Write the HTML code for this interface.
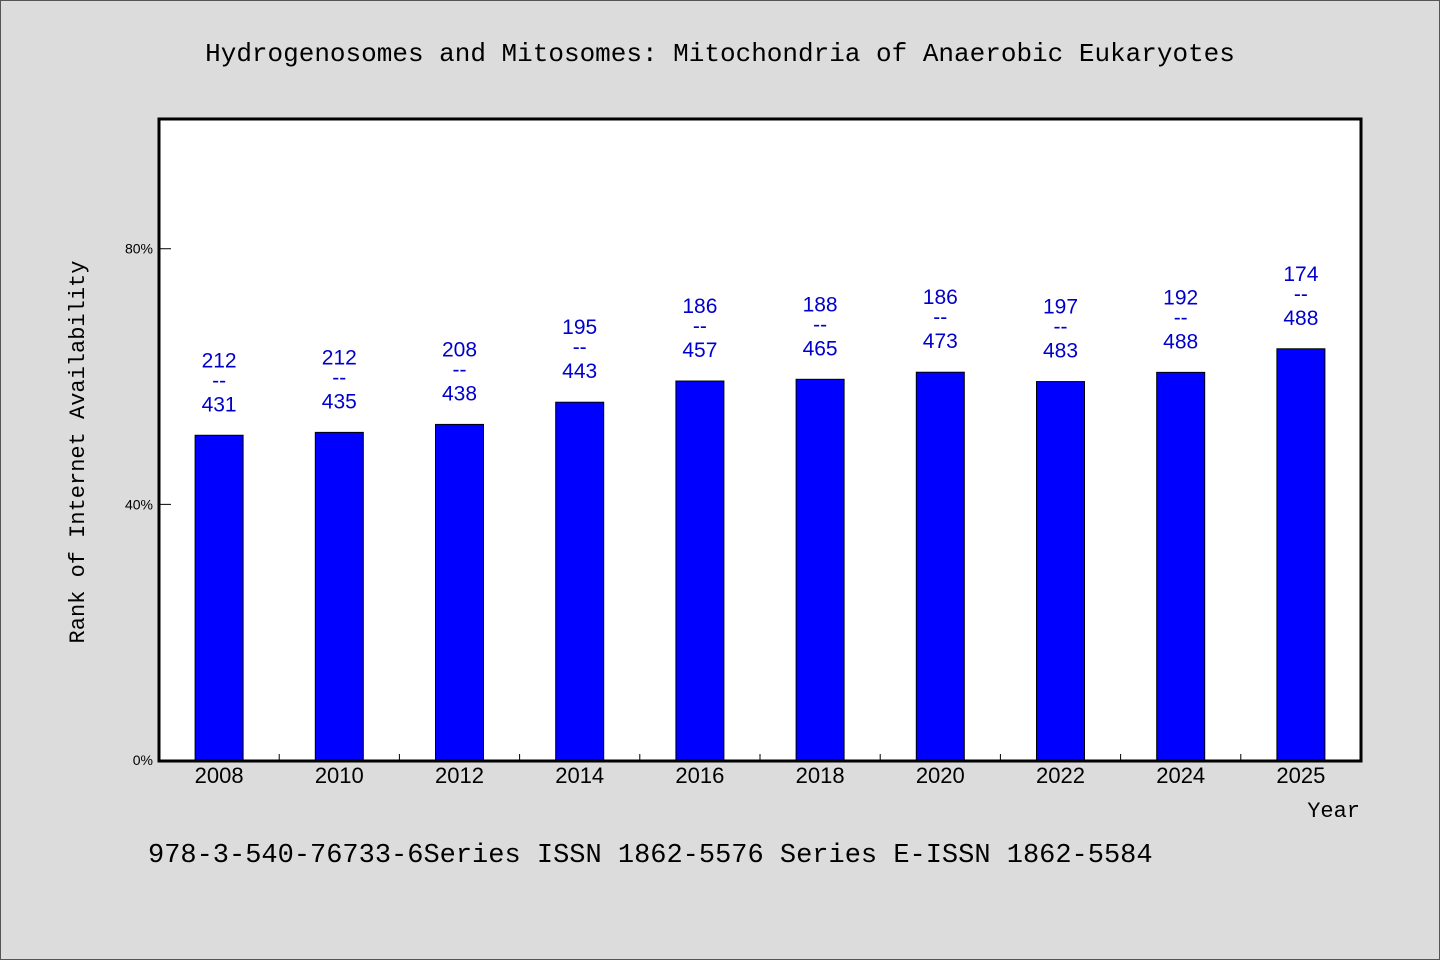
<!DOCTYPE html>
<html><head><meta charset="utf-8"><style>
html,body{margin:0;padding:0;background:#dcdcdc;}
svg{display:block;}
</style></head><body>
<svg id="chart" width="1440" height="960" xmlns="http://www.w3.org/2000/svg">
<rect x="0.5" y="0.5" width="1439" height="959" fill="#dcdcdc" stroke="#555"/>
<text x="720" y="61" text-anchor="middle" font-family="'Liberation Mono','WenQuanYi Zen Hei',monospace" font-size="26" fill="#000">Hydrogenosomes and Mitosomes: Mitochondria of Anaerobic Eukaryotes</text>
<rect x="159" y="119" width="1202" height="642" fill="#fff"/>
<g id="marks"></g>
<rect x="159" y="119" width="1202" height="642" fill="none" stroke="#000" stroke-width="3"/>
<text transform="translate(84,452) rotate(-90)" text-anchor="middle" font-family="'Liberation Mono','WenQuanYi Zen Hei',monospace" font-size="22" fill="#000">Rank of Internet Availability</text>
<text x="1360" y="817" text-anchor="end" font-family="'Liberation Mono','WenQuanYi Zen Hei',monospace" font-size="22" fill="#000">Year</text>
<text x="148" y="862" font-family="'Liberation Mono','WenQuanYi Zen Hei',monospace" font-size="27" fill="#000">978-3-540-76733-6Series ISSN 1862-5576 Series E-ISSN 1862-5584</text>
</svg>
<script>
const categories = ["2008","2010","2012","2014","2016","2018","2020","2022","2024","2025"];
const ranks = [212,212,208,195,186,188,186,197,192,174];
const totals = [431,435,438,443,457,465,473,483,488,488];
const yTicks = [0,40,80];
const yTickLabels = ["0%","40%","80%"];

const NS="http://www.w3.org/2000/svg";
const g=document.getElementById('marks');
const X0=159,X1=1361,Y0=760,YMAX=100.3;
const band=(X1-X0)/categories.length;
const xc=i=>X0+band*(i+0.5);
const y=v=>Y0-(v/YMAX)*(Y0-119);
function mk(tag,attrs,text){const e=document.createElementNS(NS,tag);for(const k in attrs)e.setAttribute(k,attrs[k]);if(text!==undefined)e.textContent=text;g.appendChild(e);return e;}
yTicks.forEach((t,i)=>{
  const ln=mk('line',{x1:X0,x2:X0+12,y1:y(t),y2:y(t),stroke:'#000','stroke-width':1});
  
  
  const tx=mk('text',{x:X0-6,y:y(t)+5,'text-anchor':'end','font-family':"'Liberation Sans',sans-serif",'font-size':14,fill:'#000'},yTickLabels[i]);
  
  
});
categories.forEach((c,i)=>{
  const v=(1-ranks[i]/totals[i])*100;
  const top=y(v);
  const b=mk('rect',{x:xc(i)-24,y:top,width:48,height:Y0-top,fill:'#0000ff',stroke:'#000','stroke-width':1});
  
  
  if(i>0){const tk=mk('line',{x1:X0+band*i,x2:X0+band*i,y1:Y0,y2:Y0-6,stroke:'#000','stroke-width':1});
    
    }
  const xl=mk('text',{x:xc(i),y:783,'text-anchor':'middle','font-family':"'Liberation Sans',sans-serif",'font-size':22,fill:'#000'},c);
  
  
  const f={'text-anchor':'middle','font-family':"'Liberation Sans',sans-serif",'font-size':21,fill:'#0000cc'};
  const r=mk('text',Object.assign({x:xc(i),y:top-68},f),String(ranks[i]));
  
  
  const d=mk('text',Object.assign({x:xc(i),y:top-48},f),'--');
  
  
  const t=mk('text',Object.assign({x:xc(i),y:top-24},f),String(totals[i]));
  
  
});
</script>
</body></html>
